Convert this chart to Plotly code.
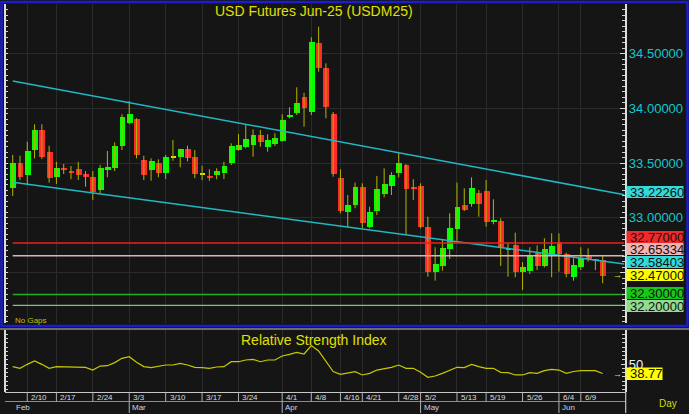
import plotly.graph_objects as go

# ---------------- data ----------------
opens = [33.269, 33.503, 33.388, 33.619, 33.802, 33.604, 33.370, 33.455, 33.430, 33.443,
         33.400, 33.370, 33.254, 33.437, 33.452, 33.656, 33.868, 33.900, 33.528, 33.437,
         33.503, 33.406, 33.558, 33.553, 33.626, 33.553, 33.401, 33.378, 33.388, 33.406,
         33.503, 33.619, 33.647, 33.662, 33.756, 33.649, 33.671, 33.704, 33.928, 33.960,
         34.106, 33.969, 34.599, 34.365, 33.948, 33.361, 33.056, 33.114, 33.279, 32.919,
         33.065, 33.215, 33.290, 33.406, 33.479, 33.275, 33.293, 32.913, 32.508, 32.563,
         32.715, 32.895, 33.117, 33.123, 33.229, 33.245, 32.970, 32.971, 32.715, 32.752,
         32.508, 32.514, 32.676, 32.563, 32.660, 32.776, 32.669, 32.462, 32.553, 32.660,
         32.621, 32.615]
highs = [33.574, 33.567, 33.695, 33.854, 33.854, 33.658, 33.512, 33.491, 33.473, 33.510,
         33.427, 33.427, 33.482, 33.610, 33.689, 33.945, 34.067, 33.909, 33.567, 33.543,
         33.534, 33.574, 33.711, 33.630, 33.658, 33.619, 33.476, 33.443, 33.452, 33.512,
         33.680, 33.765, 33.847, 33.808, 33.802, 33.763, 33.772, 33.945, 34.009, 34.192,
         34.142, 34.648, 34.745, 34.411, 33.966, 33.443, 33.208, 33.321, 33.315, 33.101,
         33.382, 33.452, 33.416, 33.601, 33.490, 33.352, 33.315, 33.010, 32.731, 32.797,
         33.041, 33.321, 33.269, 33.370, 33.254, 33.345, 33.169, 32.995, 32.773, 32.864,
         32.596, 32.731, 32.749, 32.813, 32.858, 32.858, 32.681, 32.630, 32.731, 32.721,
         32.625, 32.654]
lows = [33.199, 33.345, 33.309, 33.543, 33.537, 33.321, 33.309, 33.400, 33.352, 33.345,
        33.284, 33.163, 33.224, 33.370, 33.427, 33.619, 33.854, 33.543, 33.345, 33.339,
        33.370, 33.354, 33.521, 33.461, 33.516, 33.361, 33.345, 33.339, 33.352, 33.354,
        33.482, 33.613, 33.635, 33.558, 33.649, 33.604, 33.656, 33.695, 33.909, 33.939,
        33.832, 33.939, 34.334, 33.909, 33.375, 33.041, 32.913, 33.087, 32.904, 32.904,
        33.026, 33.187, 33.208, 33.370, 32.843, 33.163, 32.904, 32.462, 32.426, 32.517,
        32.624, 32.791, 33.062, 33.101, 33.010, 32.919, 32.941, 32.560, 32.462, 32.457,
        32.341, 32.487, 32.523, 32.548, 32.457, 32.508, 32.457, 32.426, 32.523, 32.599,
        32.523, 32.402]
closes = [33.503, 33.370, 33.610, 33.802, 33.553, 33.361, 33.452, 33.437, 33.416, 33.391,
          33.370, 33.238, 33.452, 33.461, 33.658, 33.918, 33.945, 33.571, 33.391, 33.519,
          33.406, 33.553, 33.558, 33.626, 33.546, 33.400, 33.401, 33.372, 33.427, 33.476,
          33.658, 33.668, 33.720, 33.756, 33.695, 33.711, 33.726, 33.893, 33.935, 34.048,
          34.003, 34.608, 34.365, 34.009, 33.397, 33.065, 33.117, 33.279, 32.950, 33.053,
          33.260, 33.311, 33.394, 33.503, 33.266, 33.268, 32.913, 32.508, 32.578, 32.721,
          32.904, 33.101, 33.071, 33.269, 33.123, 32.964, 32.976, 32.731, 32.720, 32.508,
          32.548, 32.654, 32.563, 32.712, 32.743, 32.669, 32.487, 32.569, 32.630, 32.621,
          32.608, 32.470]
rsi = [46.9, 44.9, 49.6, 53.5, 49.6, 44.9, 46.9, 46.9, 46.5, 46.1,
       46.1, 42.9, 47.6, 48.0, 51.6, 56.7, 58.6, 52.0, 46.9, 45.7,
       46.9, 48.8, 48.8, 50.8, 48.8, 46.1, 45.7, 44.9, 46.5, 46.9,
       52.7, 52.7, 54.7, 55.5, 52.7, 54.7, 54.7, 59.4, 61.4, 63.7,
       61.8, 71.6, 65.3, 52.7, 41.2, 37.8, 39.0, 41.0, 37.1, 39.0,
       42.9, 44.1, 46.1, 48.8, 44.9, 44.9, 40.2, 34.3, 35.9, 39.0,
       42.9, 46.1, 45.7, 49.6, 46.9, 44.9, 44.9, 40.2, 39.8, 37.1,
       37.1, 39.8, 39.0, 42.2, 43.7, 42.9, 39.0, 41.2, 42.2, 42.2,
       42.2, 38.77]

week_pos = [2, 6, 11, 16, 21, 26, 31, 37, 41, 45, 48, 53, 56, 61, 65, 70, 75, 78]
week_labels = ['2/10', '2/17', '2/24', '3/3', '3/10', '3/17', '3/24', '4/1', '4/8',
               '4/16', '4/21', '4/28', '5/2', '5/13', '5/19', '5/26', '6/4', '6/9']
month_pos = [0, 16, 37, 56, 75]
month_labels = ['Feb', 'Mar', 'Apr', 'May', 'Jun']

price_ticks = [32.5, 33.0, 33.5, 34.0, 34.5]
price_tick_text = ['', '33.00000', '33.50000', '34.00000', '34.50000']

trend_x = [0, 84]
upper_trend = [34.25, 33.21]
lower_trend = [33.324, 32.578]

level_values = [32.77, 32.65334, 32.30, 32.20]
level_colors = ['#e82020', '#dcb4b4', '#20b020', '#78c878']

tag_texts = ['33.22260', '32.77000', '32.65334', '32.58403', '32.47000', '32.30000', '32.20000']
tag_colors = ['#30dada', '#f02a2a', '#f0b4b4', '#30dada', '#ffff00', '#18c818', '#90dc90']
tag_y_px = [192, 237, 249, 262, 275, 293, 306]

rsi_last_text = '38.77'

# ---------------- figure ----------------
W, H = 689, 414
FONT = 'Liberation Sans, Arial, sans-serif'
BG = '#151515'
GRID = '#2b2b2b'


def px_y(p):
    return 1 - p / H


def px_x(p):
    return p / W


n = len(opens)
idx = list(range(n))
xrange_ = [-0.99, 84.0]
xdom = [px_x(5.5), px_x(624.5)]

fig = go.Figure()

# wicks
wx, wy = [], []
for i in idx:
    wx += [i, i, None]
    wy += [lows[i], highs[i], None]
fig.add_trace(go.Scatter(x=wx, y=wy, mode='lines', line=dict(color='#b4b400', width=1),
                         hoverinfo='skip', showlegend=False, xaxis='x', yaxis='y'))

# bodies
bases, heights, colors = [], [], []
for o, c in zip(opens, closes):
    lo, hi = min(o, c), max(o, c)
    h = hi - lo
    if h < 0.014:
        mid = (lo + hi) / 2
        lo, h = mid - 0.007, 0.014
    bases.append(lo)
    heights.append(h)
    colors.append('#00ff00' if c > o else ('#ff2a2a' if c < o else '#e0e000'))
fig.add_trace(go.Bar(x=idx, y=heights, base=bases, width=0.8,
                     marker=dict(color=colors, line=dict(width=0)),
                     hoverinfo='skip', showlegend=False, xaxis='x', yaxis='y'))

# trend lines
for tl in (upper_trend, lower_trend):
    fig.add_trace(go.Scatter(x=trend_x, y=tl, mode='lines',
                             line=dict(color='#20b8c4', width=1.5),
                             hoverinfo='skip', showlegend=False, xaxis='x', yaxis='y'))

# horizontal levels
for v, col in zip(level_values, level_colors):
    fig.add_trace(go.Scatter(x=[0, 84], y=[v, v], mode='lines',
                             line=dict(color=col, width=1.4),
                             hoverinfo='skip', showlegend=False, xaxis='x', yaxis='y'))

# RSI
fig.add_trace(go.Scatter(x=idx, y=rsi, mode='lines', line=dict(color='#c8c800', width=1.2),
                         hoverinfo='skip', showlegend=False, xaxis='x2', yaxis='y2'))

# dummy traces for left tick axes
fig.add_trace(go.Scatter(x=[None], y=[None], xaxis='x', yaxis='y3', showlegend=False))
fig.add_trace(go.Scatter(x=[None], y=[None], xaxis='x2', yaxis='y4', showlegend=False))

main_range = [32.0393, 34.9525]
rsi_range = [17.06, 90]
main_dom = [px_y(323), px_y(4)]
rsi_dom = [px_y(392), px_y(330)]

tick_common = dict(ticks='inside', tickcolor='#dcdcdc', showline=True, linecolor='#dcdcdc',
                   linewidth=1.5, zeroline=False, fixedrange=True)

fig.update_layout(
    width=W, height=H,
    margin=dict(l=0, r=0, t=0, b=0),
    paper_bgcolor=BG, plot_bgcolor=BG,
    showlegend=False, bargap=0, barmode='overlay',
    font=dict(family=FONT),
    xaxis=dict(domain=xdom, range=xrange_, anchor='y', tickvals=week_pos, showticklabels=False,
               ticks='', showgrid=True, gridcolor=GRID, gridwidth=1, zeroline=False,
               showline=False, fixedrange=True),
    xaxis2=dict(domain=xdom, range=xrange_, anchor='y2', tickvals=week_pos, showticklabels=False,
                ticks='', showgrid=True, gridcolor=GRID, gridwidth=1, zeroline=False,
                showline=False, fixedrange=True),
    yaxis=dict(domain=main_dom, range=main_range, anchor='x', side='right',
               tickvals=price_ticks, ticktext=price_tick_text,
               tickfont=dict(size=13, color='#10c8d0', family=FONT), ticklen=5,
               showgrid=True, gridcolor=GRID,
               minor=dict(ticks='inside', dtick=0.05, tick0=0, ticklen=3,
                          tickcolor='#d0d0d0', showgrid=False),
               **tick_common),
    yaxis3=dict(overlaying='y', range=main_range, anchor='x', side='left',
                tickvals=price_ticks, showticklabels=False, ticklen=3, showgrid=False,
                minor=dict(ticks='inside', dtick=0.05, tick0=0, ticklen=3,
                           tickcolor='#d0d0d0', showgrid=False),
                **tick_common),
    yaxis2=dict(domain=rsi_dom, range=rsi_range, anchor='x2', side='right',
                tickvals=[50], ticktext=['50'],
                tickfont=dict(size=13, color='#f0f0f0', family=FONT), ticklen=4,
                showgrid=False,
                minor=dict(ticks='inside', dtick=5, tick0=0, ticklen=3,
                           tickcolor='#d0d0d0', showgrid=False),
                **tick_common),
    yaxis4=dict(overlaying='y2', range=rsi_range, anchor='x2', side='left',
                tickvals=[50], showticklabels=False, ticklen=3, showgrid=False,
                minor=dict(ticks='inside', dtick=5, tick0=0, ticklen=3,
                           tickcolor='#d0d0d0', showgrid=False),
                **tick_common),
)

shapes = []
# blue border around main panel
shapes.append(dict(type='rect', xref='paper', yref='paper', x0=px_x(1.5), x1=px_x(687.5),
                   y0=px_y(326), y1=px_y(2), line=dict(color='#1c1cd0', width=2.5),
                   fillcolor='rgba(0,0,0,0)', layer='above'))
# gray separator above RSI panel
shapes.append(dict(type='line', xref='paper', yref='paper', x0=0, x1=1, y0=px_y(329), y1=px_y(329),
                   line=dict(color='#8a8a8a', width=1.5)))
# date rows
shapes.append(dict(type='line', xref='paper', yref='paper', x0=px_x(5), x1=px_x(625.5),
                   y0=px_y(392.5), y1=px_y(392.5), line=dict(color='#c8c8c8', width=1.2)))
shapes.append(dict(type='line', xref='paper', yref='paper', x0=px_x(5), x1=px_x(625.5),
                   y0=px_y(401.5), y1=px_y(401.5), line=dict(color='#8c8c8c', width=1.2)))
shapes.append(dict(type='line', xref='paper', yref='paper', x0=px_x(625.7), x1=px_x(625.7),
                   y0=px_y(392), y1=px_y(413), line=dict(color='#c8c8c8', width=1.2)))
for p in week_pos:
    shapes.append(dict(type='line', xref='x2', yref='paper', x0=p, x1=p,
                       y0=px_y(401.5), y1=px_y(392.5), line=dict(color='#b0b0b0', width=1)))
for p in month_pos[1:]:
    shapes.append(dict(type='line', xref='x2', yref='paper', x0=p, x1=p,
                       y0=px_y(413), y1=px_y(401.5), line=dict(color='#b0b0b0', width=1)))
# level tag boxes
for yc, col in zip(tag_y_px, tag_colors):
    shapes.append(dict(type='rect', xref='paper', yref='paper', x0=px_x(626.5), x1=px_x(683.5),
                       y0=px_y(yc + 6), y1=px_y(yc - 6), fillcolor=col,
                       line=dict(width=0), layer='above'))
# RSI last value box
shapes.append(dict(type='rect', xref='paper', yref='paper', x0=px_x(626.5), x1=px_x(662.5),
                   y0=px_y(380), y1=px_y(367.5), fillcolor='#ffff00',
                   line=dict(width=0), layer='above'))
fig.update_layout(shapes=shapes)

ann = []
ann.append(dict(text='USD Futures Jun-25 (USDM25)', xref='paper', yref='paper',
                x=px_x(314), y=px_y(11), xanchor='center', yanchor='middle', showarrow=False,
                font=dict(size=14, color='#e0e000', family=FONT)))
ann.append(dict(text='Relative Strength Index', xref='paper', yref='paper',
                x=px_x(313.5), y=px_y(339.5), xanchor='center', yanchor='middle', showarrow=False,
                font=dict(size=14, color='#e0e000', family=FONT)))
ann.append(dict(text='No Gaps', xref='paper', yref='paper', x=px_x(12.5), y=px_y(320.5),
                xanchor='left', yanchor='middle', showarrow=False,
                font=dict(size=8, color='#c0c000', family=FONT)))
for t, yc in zip(tag_texts, tag_y_px):
    ann.append(dict(text=t, xref='paper', yref='paper', x=px_x(627.5), y=px_y(yc),
                    xanchor='left', yanchor='middle', showarrow=False,
                    font=dict(size=13, color='#101010', family=FONT)))
ann.append(dict(text=rsi_last_text, xref='paper', yref='paper', x=px_x(627.5), y=px_y(373.8),
                xanchor='left', yanchor='middle', showarrow=False,
                font=dict(size=13, color='#101010', family=FONT)))
for yc in (275, 373.5):
    ann.append(dict(text='→', xref='paper', yref='paper', x=px_x(617.5), y=px_y(yc),
                    xanchor='center', yanchor='middle', showarrow=False,
                    font=dict(size=9, color='#e0e000', family=FONT)))
for p, t in zip(week_pos, week_labels):
    ann.append(dict(text=t, xref='x2', yref='paper', x=p, y=px_y(397), xshift=2,
                    xanchor='left', yanchor='middle', showarrow=False,
                    font=dict(size=8, color='#dcdcdc', family=FONT)))
for p, t in zip(month_pos, month_labels):
    ann.append(dict(text=t, xref='x2', yref='paper', x=p, y=px_y(407), xshift=1,
                    xanchor='left', yanchor='middle', showarrow=False,
                    font=dict(size=8, color='#c8d4e8', family=FONT)))
ann.append(dict(text='Day', xref='paper', yref='paper', x=px_x(668), y=px_y(403.5),
                xanchor='center', yanchor='middle', showarrow=False,
                font=dict(size=10, color='#d8d800', family=FONT)))
fig.update_layout(annotations=ann)

fig.write_html('out.html',
               config={'displayModeBar': False},
               post_script="document.body.style.margin='0';document.body.style.padding='0';"
                           "document.body.style.overflow='hidden';"
                           "document.documentElement.style.overflow='hidden';")
